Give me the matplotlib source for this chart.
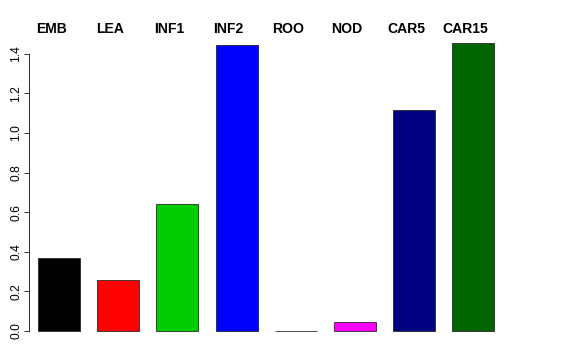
import matplotlib
matplotlib.use("Agg")
import matplotlib.pyplot as plt

plt.rcParams['font.family'] = ['Liberation Sans', 'DejaVu Sans']

# tissues and their values
tissues = ["EMB", "LEA", "INF1", "INF2", "ROO", "NOD", "CAR5", "CAR15"]
values = [0.369, 0.258, 0.642, 1.445, 0.002, 0.045, 1.117, 1.455]
colors = ["black", "red", "#00CD00", "blue", "#FFFF00", "magenta", "navy", "#006400"]

fig = plt.figure(figsize=(8, 5), dpi=72)
# axes placed like the R plot region
ax = fig.add_axes([29 / 576, 1 - 342.5 / 360, 491 / 576, 311 / 360])

xpos = list(range(len(tissues)))
ax.bar(xpos, values, width=0.71, color=colors, edgecolor="#222222", linewidth=0.8)

ax.set_xlim(-0.507, 7.79)
ax.set_ylim(-0.058, 1.513)

for x, name in zip(xpos, tissues):
    ax.text(x - 0.135, 1.008, name, transform=ax.get_xaxis_transform(),
            ha="center", va="center", fontsize=14, fontweight="bold")

ax.set_yticks([0.0, 0.2, 0.4, 0.6, 0.8, 1.0, 1.2, 1.4])
ax.set_yticklabels(["0.0", "0.2", "0.4", "0.6", "0.8", "1.0", "1.2", "1.4"],
                   rotation=90, va="center", fontsize=12)
ax.tick_params(axis="y", length=5, width=0.8, pad=2)
ax.set_xticks([])
for s in ["top", "right", "bottom"]:
    ax.spines[s].set_visible(False)
ax.spines["left"].set_bounds(0, 1.4)
ax.spines["left"].set_linewidth(0.8)

fig.savefig("out.png", dpi=72)
